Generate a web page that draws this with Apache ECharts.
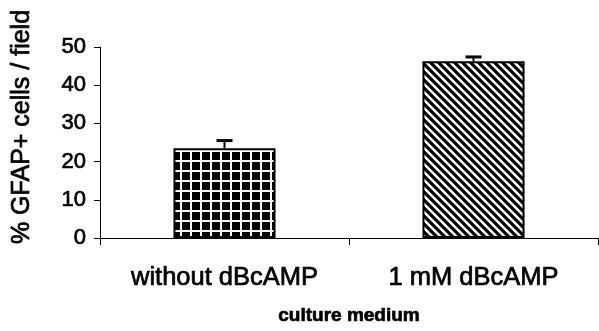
<!DOCTYPE html>
<html>
<head>
<meta charset="utf-8">
<script src="https://cdn.jsdelivr.net/npm/echarts@6/dist/echarts.min.js"></script>
<style>
html,body{margin:0;padding:0;background:#fff;}
#chart{width:599px;height:331px;}
</style>
</head>
<body>
<div id="chart"></div>
<script>
var categories = ['without dBcAMP', '1 mM dBcAMP'];
var means = [23.5, 46.3];
var errors = [2.0, 1.1];
var yTicks = [0, 10, 20, 30, 40, 50];
var yTitle = '% GFAP+ cells / field';
var xTitle = 'culture medium';

function gridPattern() {
  var c = document.createElement('canvas');
  c.width = 10; c.height = 10;
  var g = c.getContext('2d');
  g.fillStyle = '#000'; g.fillRect(0, 0, 10, 10);
  g.fillStyle = '#fff';
  g.fillRect(0, 0, 2, 10);
  g.fillRect(0, 0, 10, 2);
  return c;
}
function stripePattern() {
  var s = 8;
  var c = document.createElement('canvas');
  c.width = s; c.height = s;
  var g = c.getContext('2d');
  g.fillStyle = '#fff'; g.fillRect(0, 0, s, s);
  g.strokeStyle = '#000'; g.lineWidth = 3.2;
  g.beginPath();
  g.moveTo(-2, -2); g.lineTo(s + 2, s + 2);
  g.moveTo(-2 - s, -2); g.lineTo(2, s + 2);
  g.moveTo(s - 2, -2); g.lineTo(2 * s + 2, s + 2);
  g.stroke();
  return c;
}
var patterns = [gridPattern(), stripePattern()];

var chart = echarts.init(document.getElementById('chart'));
var font = 'Liberation Sans, Arial, sans-serif';
var thick = {textBorderColor: '#000', textBorderWidth: 0.7};
chart.setOption({
  animation: false,
  grid: {left: 100, right: 1, top: 47, bottom: 93},
  xAxis: {
    type: 'category',
    data: categories,
    axisLine: {lineStyle: {color: '#000', width: 1}},
    axisTick: {show: true, length: 7, lineStyle: {color: '#000'}},
    axisLabel: Object.assign({color: '#000', fontSize: 25.5, fontFamily: font, margin: 27}, thick),
    name: xTitle,
    nameLocation: 'middle',
    nameGap: 68,
    nameTextStyle: Object.assign({color: '#000', fontSize: 19, fontWeight: 'bold', fontFamily: font}, thick)
  },
  yAxis: {
    type: 'value',
    min: 0, max: 50, interval: 10,
    axisLine: {show: true, lineStyle: {color: '#000', width: 1}},
    axisTick: {show: true, length: 6, lineStyle: {color: '#000'}},
    splitLine: {show: false},
    axisLabel: Object.assign({color: '#000', fontSize: 22, fontFamily: font, margin: 14}, thick)
  },
  graphic: [{
    type: 'text',
    x: 22, y: 127,
    rotation: Math.PI / 2,
    style: {text: yTitle, fill: '#000', fontSize: 25, fontFamily: font, align: 'center', verticalAlign: 'middle', stroke: '#000', lineWidth: 0.7}
  }],
  series: [{
    type: 'bar',
    barWidth: '41%',
    data: means.map(function (v, i) {
      return {value: v, itemStyle: {color: {image: patterns[i], repeat: 'repeat'}, borderColor: '#000', borderWidth: 2}};
    }),
    z: 2
  }, {
    type: 'custom',
    z: 3,
    data: means.map(function (v, i) { return [i, v, v + errors[i]]; }),
    renderItem: function (params, api) {
      var p0 = api.coord([api.value(0), api.value(1)]);
      var p1 = api.coord([api.value(0), api.value(2)]);
      var hw = 8;
      return {
        type: 'group',
        children: [
          {type: 'line', shape: {x1: p0[0], y1: p0[1], x2: p1[0], y2: p1[1]}, style: {stroke: '#000', lineWidth: 2}},
          {type: 'line', shape: {x1: p1[0] - hw, y1: p1[1], x2: p1[0] + hw, y2: p1[1]}, style: {stroke: '#000', lineWidth: 3}}
        ]
      };
    }
  }]
});
</script>
</body>
</html>
